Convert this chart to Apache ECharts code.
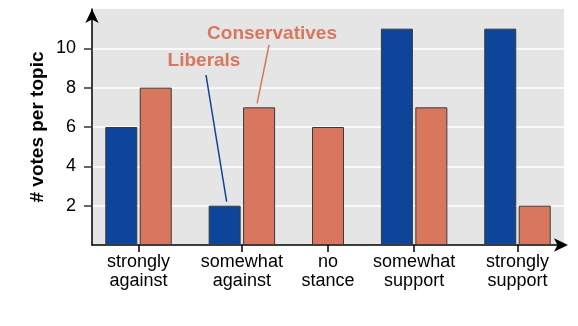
<!DOCTYPE html>
<html>
<head>
<meta charset="utf-8">
<script src="https://cdn.jsdelivr.net/npm/echarts@6/dist/echarts.min.js"></script>
<style>
  html, body { margin: 0; padding: 0; background: #fff; }
  #chart { width: 578px; height: 326px; }
</style>
</head>
<body>
<div id="chart"></div>
<script>
var categories = ['strongly\nagainst', 'somewhat\nagainst', 'no\nstance', 'somewhat\nsupport', 'strongly\nsupport']
var liberals = [6, 2, 0, 11, 11]
var conservatives = [8, 7, 6, 7, 2]
var yTicks = [2, 4, 6, 8, 10]

var FONT = '"Liberation Sans", Arial, Helvetica, sans-serif'
var BLUE = '#0c4599'
var ORANGE = '#d8765e'

// bars are packed one after another, one empty slot between groups
var libData = []
var conData = []
var groupCenters = []
var slot = 0
categories.forEach(function (c, i) {
  var used = []
  if (liberals[i] > 0) { libData.push([slot, liberals[i]]); used.push(slot); slot++ }
  if (conservatives[i] > 0) { conData.push([slot, conservatives[i]]); used.push(slot); slot++ }
  groupCenters.push((used[0] + used[used.length - 1]) / 2)
  slot++
})

var chart = echarts.init(document.getElementById('chart'))

var barStyle = function (color) {
  return { color: color, borderColor: '#3a3a3a', borderWidth: 1 }
}

var option = {
  animation: false,
  textStyle: { fontFamily: FONT },
  grid: {
    left: 92, right: 14, top: 9, bottom: 81,
    show: true, backgroundColor: '#e5e5e5', borderWidth: 0
  },
  xAxis: {
    type: 'value',
    min: -0.85,
    max: slot - 2 + 0.85,
    splitLine: { show: false },
    axisLine: {
      show: true,
      onZero: true,
      lineStyle: { color: '#000', width: 1.5 },
      symbol: ['none', 'arrow'],
      symbolSize: [10, 14],
      symbolOffset: [0, 4]
    },
    axisTick: {
      show: true, length: 7, inside: false,
      customValues: groupCenters,
      lineStyle: { color: '#000', width: 1.5 }
    },
    axisLabel: {
      customValues: groupCenters,
      margin: 8,
      fontSize: 18,
      lineHeight: 19,
      color: '#000',
      fontFamily: FONT,
      formatter: function (v) {
        var k = groupCenters.indexOf(v)
        return k >= 0 ? categories[k] : ''
      }
    }
  },
  yAxis: {
    type: 'value',
    min: 0,
    max: 12,
    interval: 2,
    name: '# votes per topic',
    nameLocation: 'middle',
    nameGap: 45,
    nameMoveOverlap: false,
    nameTextStyle: { fontSize: 19, fontWeight: 'bold', color: '#000', fontFamily: FONT },
    axisLine: {
      show: true,
      onZero: false,
      lineStyle: { color: '#000', width: 1.5 },
      symbol: ['none', 'arrow'],
      symbolSize: [10, 14],
      symbolOffset: [0, 0]
    },
    axisTick: {
      show: true, length: 8,
      customValues: yTicks,
      lineStyle: { color: '#333', width: 1.5 }
    },
    axisLabel: {
      customValues: yTicks,
      margin: 16,
      fontSize: 18,
      color: '#000',
      fontFamily: FONT
    },
    splitLine: { show: true, lineStyle: { color: '#fff', width: 1.5 } }
  },
  series: [
    {
      name: 'Liberals',
      type: 'bar',
      barWidth: 32,
      barGap: '-100%',
      itemStyle: barStyle(BLUE),
      data: libData
    },
    {
      name: 'Conservatives',
      type: 'bar',
      barWidth: 32,
      barGap: '-100%',
      itemStyle: barStyle(ORANGE),
      data: conData
    }
  ]
}
chart.setOption(option)

// annotations pointing at the "somewhat against" bars
var libEnd = chart.convertToPixel({ gridIndex: 0 }, libData[1])
var conEnd = chart.convertToPixel({ gridIndex: 0 }, conData[1])
chart.setOption({
  graphic: [
    {
      type: 'text', x: 204, y: 61,
      style: { text: 'Liberals', fill: ORANGE, font: 'bold 19px ' + FONT, textAlign: 'center', textVerticalAlign: 'middle' }
    },
    {
      type: 'text', x: 272, y: 34,
      style: { text: 'Conservatives', fill: ORANGE, font: 'bold 19px ' + FONT, textAlign: 'center', textVerticalAlign: 'middle' }
    },
    {
      type: 'line',
      shape: { x1: 206, y1: 75, x2: libEnd[0] + 2, y2: libEnd[1] - 4 },
      style: { stroke: BLUE, lineWidth: 1.5 }
    },
    {
      type: 'line',
      shape: { x1: 269, y1: 45, x2: conEnd[0] - 2, y2: conEnd[1] - 4 },
      style: { stroke: ORANGE, lineWidth: 1.5 }
    }
  ]
})
</script>
</body>
</html>
